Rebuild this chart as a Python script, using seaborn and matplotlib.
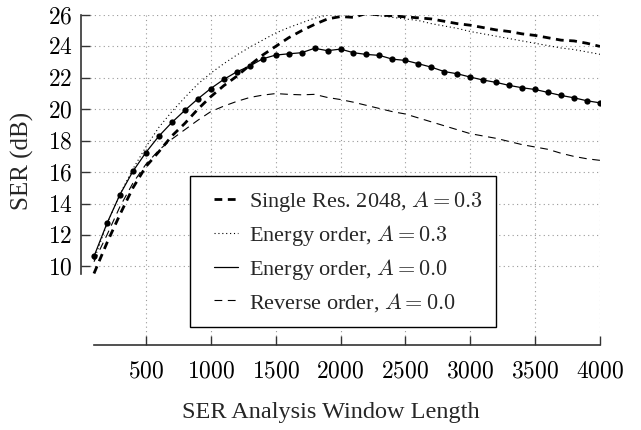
import matplotlib
matplotlib.use("Agg")
import matplotlib.pyplot as plt
import numpy as np
import seaborn as sns
from matplotlib.legend_handler import HandlerLine2D
from matplotlib.lines import Line2D
from matplotlib.ticker import FuncFormatter

# window lengths (100 ... 4000)
window = np.arange(100, 4001, 100)

# SER values (dB)
single_res = [9.55, 11.5, 13.3, 15.0, 16.35, 17.3, 18.3, 19.1, 20.0, 20.8,
              21.5, 22.1, 22.8, 23.45, 24.0, 24.55, 25.0, 25.4, 25.75, 25.9,
              25.85, 26.1, 26.0, 25.95, 25.88, 25.82, 25.75, 25.6, 25.45, 25.35,
              25.2, 25.05, 24.95, 24.8, 24.7, 24.55, 24.4, 24.35, 24.2, 24.0]
energy_03 = [10.4, 12.7, 14.6, 16.2, 17.6, 18.85, 19.85, 20.75, 21.6, 22.3,
             22.9, 23.45, 23.95, 24.4, 24.85, 25.2, 25.5, 25.8, 26.0, 26.05,
             26.1, 26.05, 25.95, 25.85, 25.75, 25.65, 25.45, 25.3, 25.15, 24.95,
             24.8, 24.65, 24.5, 24.35, 24.2, 24.05, 23.9, 23.8, 23.65, 23.5]
energy_00 = [10.64, 12.74, 14.57, 16.05, 17.25, 18.29, 19.16, 19.93, 20.66, 21.32,
             21.90, 22.38, 22.75, 23.21, 23.45, 23.53, 23.60, 23.88, 23.73, 23.83,
             23.60, 23.49, 23.43, 23.19, 23.11, 22.90, 22.68, 22.40, 22.26, 22.05,
             21.86, 21.71, 21.52, 21.37, 21.26, 21.07, 20.88, 20.73, 20.54, 20.41]
reverse_00 = [10.3, 12.0, 13.8, 15.3, 16.5, 17.4, 18.1, 18.7, 19.3, 19.85,
              20.2, 20.5, 20.75, 20.9, 21.0, 20.95, 20.92, 20.95, 20.75, 20.62,
              20.45, 20.25, 20.05, 19.85, 19.7, 19.45, 19.2, 18.95, 18.7, 18.45,
              18.3, 18.15, 17.95, 17.75, 17.6, 17.45, 17.2, 17.0, 16.85, 16.75]

labels = ["Single Res. 2048, $A = 0.3$", "Energy order, $A = 0.3$",
          "Energy order, $A = 0.0$", "Reverse order, $A = 0.0$"]

x_ticks = [500, 1000, 1500, 2000, 2500, 3000, 3500, 4000]
y_ticks = [10, 12, 14, 16, 18, 20, 22, 24, 26]


class PaddedLine(HandlerLine2D):
    # legend line drawn only in the right part of the handle box, no marker
    def create_artists(self, legend, orig_handle, xdescent, ydescent,
                       width, height, fontsize, trans):
        arts = super().create_artists(legend, orig_handle, xdescent, ydescent,
                                      width, height, fontsize, trans)
        for a in arts:
            xd = np.asarray(a.get_xdata(), dtype=float)
            a.set_xdata(np.linspace(xd[0] + 0.48 * fontsize, xd[-1], len(xd)))
            a.set_marker("None")
        return arts


sns.set_theme(style="ticks")
plt.rcParams["font.family"] = ["Liberation Serif", "DejaVu Serif"]
plt.rcParams["mathtext.fontset"] = "cm"

fig = plt.figure(figsize=(6.41, 4.30), dpi=100)
ax = fig.add_axes([81 / 641, 1 - 345 / 430, 519 / 641, 330 / 430])

sns.lineplot(x=window, y=single_res, ax=ax, color="black", lw=2.0,
             linestyle=(0, (2.8, 2.0)), label=labels[0])
sns.lineplot(x=window, y=energy_03, ax=ax, color="black", lw=0.8,
             linestyle=(0, (1, 2.5)), label=labels[1])
sns.lineplot(x=window, y=energy_00, ax=ax, color="black", lw=0.9,
             marker="o", markersize=4.5, markeredgewidth=0, label=labels[2])
sns.lineplot(x=window, y=reverse_00, ax=ax, color="black", lw=0.8,
             linestyle=(0, (7, 5)), label=labels[3])

ax.set_xlim(0, 4000)
ax.set_ylim(5, 26)
ax.set_xticks(x_ticks)
ax.set_yticks(y_ticks)
fmt = FuncFormatter(lambda v, p: f"${v:g}$")
ax.xaxis.set_major_formatter(fmt)
ax.yaxis.set_major_formatter(fmt)
ax.tick_params(direction="in", length=6.5, width=1.0, color="#333333",
               labelsize=17, colors="black")
ax.tick_params(axis="x", pad=12)
ax.tick_params(axis="y", pad=6)

ax.grid(True, color="#999999", linestyle=(0, (1, 3)), lw=0.8)
for s in ["top", "right"]:
    ax.spines[s].set_visible(False)
for s in ["left", "bottom"]:
    ax.spines[s].set_color("#333333")
    ax.spines[s].set_linewidth(1.2)
ax.spines["left"].set_bounds(min(single_res), 26)
ax.spines["bottom"].set_bounds(window[0], window[-1])

ax.set_xlabel("SER Analysis Window Length", fontsize=17.5)
ax.set_ylabel("SER (dB)", fontsize=18)
ax.xaxis.set_label_coords(0.482, -0.172)
ax.yaxis.set_label_coords(-0.09, 0.558)

handles, _ = ax.get_legend_handles_labels()
leg = ax.legend(handles, labels, loc="lower left",
                bbox_to_anchor=(0.21, 0.0545), fontsize=16,
                handler_map={Line2D: PaddedLine()},
                frameon=True, fancybox=False, framealpha=1, edgecolor="black",
                handlelength=1.56, handletextpad=0.5, labelspacing=0.4,
                borderpad=0.6, borderaxespad=0)
leg.get_frame().set_linewidth(1.0)
leg.set_zorder(5)

fig.savefig("out.png", dpi=100)
